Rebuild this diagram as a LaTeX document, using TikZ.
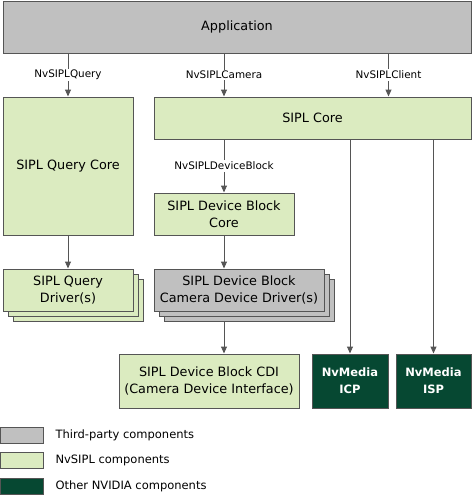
\documentclass[tikz,border=0pt]{standalone}
\usepackage{fontspec}
\setmainfont{DejaVu Sans}
\usetikzlibrary{arrows.meta, shadows}
\definecolor{boxgray}{HTML}{C0C0C0}
\definecolor{boxgreen}{HTML}{DBEBC0}
\definecolor{boxdark}{HTML}{064832}
\definecolor{linegray}{HTML}{555555}
\tikzset{
	comp/.style = {draw=linegray, line width=1pt, inner sep=0pt, align=center,
		font=\fontsize{12.8}{16.7}\selectfont},
	third/.style = {comp, fill=boxgray},
	sipl/.style = {comp, fill=boxgreen},
	nvidia/.style = {comp, fill=boxdark, text=white,
		font=\fontsize{11.5}{16.7}\selectfont\bfseries},
	stack/.style = {double copy shadow={shadow xshift=5pt, shadow yshift=-5pt}},
	api/.style = {fill=white, inner sep=1.5pt, text=black,
		font=\fontsize{10.4}{12}\selectfont},
	flow/.style = {draw=linegray, line width=1pt, -{Triangle[width=6pt, length=7pt]}},
	key/.style = {draw=linegray, line width=1pt, minimum width=43pt, minimum height=16pt,
		inner sep=0pt, anchor=west},
	keytext/.style = {anchor=west, font=\fontsize{11.5}{14}\selectfont}
}
\begin{document}
\begin{tikzpicture}[x=1pt, y=-1pt]
	\useasboundingbox (0,0) rectangle (474,501);
	%%% Blocchi
	\node[third, minimum width=468pt, minimum height=52pt] (app) at (237,27) {Application};
	\node[sipl, minimum width=130pt, minimum height=138pt] (qcore) at (68,166) {SIPL Query Core};
	\node[sipl, minimum width=317pt, minimum height=42pt] (core) at (312.5,118) {SIPL Core};
	\node[sipl, minimum width=140pt, minimum height=42pt] (dbcore) at (224,214) {SIPL Device Block\\Core};
	\node[sipl, stack, minimum width=130pt, minimum height=42pt] (qdrv) at (68,290) {SIPL Query\\Driver(s)};
	\node[third, stack, minimum width=170pt, minimum height=42pt] (ddrv) at (239,290) {SIPL Device Block\\Camera Device Driver(s)};
	\node[sipl, minimum width=180pt, minimum height=54pt] (cdi) at (209,381) {SIPL Device Block CDI\\(Camera Device Interface)};
	\node[nvidia, minimum width=76pt, minimum height=54pt] (icp) at (350,381) {NvMedia\\ICP};
	\node[nvidia, minimum width=75pt, minimum height=54pt] (isp) at (433.5,381) {NvMedia\\ISP};
	%%% Frecce
	\draw[flow] (qcore.north |- app.south) -- (qcore.north) node[api, midway] {NvSIPLQuery};
	\draw[flow] (app.south -| dbcore.north) -- (core.north -| dbcore.north) node[api, midway] {NvSIPLCamera};
	\draw[flow] (app.south -| icp.east) -- (core.north -| icp.east) node[api, midway] {NvSIPLClient};
	\draw[flow] (core.south -| dbcore.north) -- (dbcore.north) node[api, midway] {NvSIPLDeviceBlock};
	\draw[flow] (qcore.south) -- (qdrv.north);
	\draw[flow] (dbcore.south) -- (ddrv.north -| dbcore.south);
	\draw[flow] ([yshift=-10pt]ddrv.south -| dbcore.south) -- (cdi.north -| dbcore.south);
	\draw[flow] (core.south -| icp.north) -- (icp.north);
	\draw[flow] (core.south -| isp.north) -- (isp.north);
	%%% Legenda
	\node[key, fill=boxgray] (kthird) at (0,435) {};
	\node[key, fill=boxgreen] (ksipl) at (0,460) {};
	\node[key, fill=boxdark] (knv) at (0,486) {};
	\node[keytext] at ([xshift=8pt]kthird.east) {Third-party components};
	\node[keytext] at ([xshift=8pt]ksipl.east) {NvSIPL components};
	\node[keytext] at ([xshift=8pt]knv.east) {Other NVIDIA components};
\end{tikzpicture}
\end{document}
